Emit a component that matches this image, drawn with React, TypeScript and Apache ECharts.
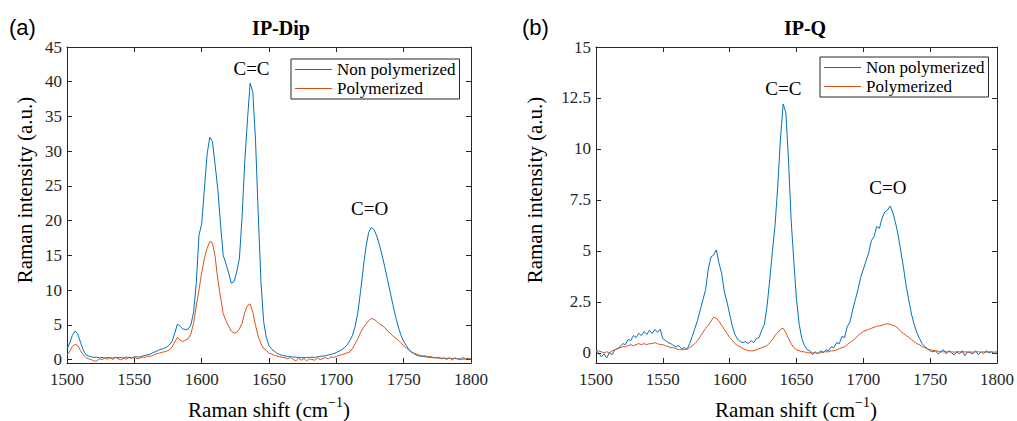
import React, { useEffect, useRef } from "react";
import * as echarts from "echarts";

const SERIF = "Liberation Serif";
const SANS = "Liberation Sans";
const AXIS_COLOR = "#262626";
const BLUE = "#0072BD";
const ORANGE = "#D95319";

// Raman shift sampling grid (cm^-1): 1500, 1502, ..., 1800
const shiftStart = 1500;
const shiftStep = 2;

const xTicks = [1500, 1550, 1600, 1650, 1700, 1750, 1800];
const ipDipYTicks = [0, 5, 10, 15, 20, 25, 30, 35, 40, 45];
const ipQYTicks = [0, 2.5, 5, 7.5, 10, 12.5, 15];

const seriesNames = ["Non polymerized", "Polymerized"];

// (a) IP-Dip
const ipDipNonPolymerized = [
  1.5, 2.4, 3.5, 4.1, 3.7, 2.5, 1.4, 0.7, 0.5, 0.4,
  0.3, 0.35, 0.25, 0.3, 0.2, 0.3, 0.25, 0.2, 0.3, 0.25,
  0.3, 0.2, 0.35, 0.3, 0.25, 0.35, 0.4, 0.35, 0.5, 0.6,
  0.7, 0.8, 1.0, 1.15, 1.35, 1.5, 1.6, 1.8, 2.1, 2.6,
  3.8, 5.1, 4.8, 4.4, 4.3, 4.4, 5.0, 6.8, 11.0, 17.9,
  19.5, 24.5, 29.5, 32.0, 31.4, 28.0, 24.5, 19.5, 15.0, 13.8,
  12.5, 11.0, 11.2, 12.6, 14.5, 20.5, 28.5, 34.5, 39.8, 38.5,
  31.5, 21.0, 11.3, 5.5, 3.2, 2.0, 1.5, 1.2, 0.9, 0.7,
  0.6, 0.5, 0.45, 0.4, 0.35, 0.35, 0.3, 0.3, 0.25, 0.3,
  0.3, 0.35, 0.3, 0.4, 0.45, 0.5, 0.55, 0.65, 0.75, 0.85,
  1.0, 1.2, 1.4, 1.7, 2.1, 2.7, 3.5, 4.8, 6.8, 9.8,
  13.2, 16.2, 18.3, 19.0, 18.7, 17.8, 16.5, 15.0, 13.3, 11.5,
  9.7, 7.9, 6.2, 4.7, 3.5, 2.6, 2.0, 1.4, 1.1, 0.8,
  0.6, 0.5, 0.45, 0.4, 0.35, 0.3, 0.25, 0.3, 0.2, 0.2,
  0.2, 0.15, 0.2, 0.1, 0.15, 0.1, 0.1, 0.05, 0.1, 0.05,
  0.05,
];
const ipDipPolymerized = [
  0.6, 1.2, 1.9, 2.2, 2.0, 1.3, 0.7, 0.3, 0.1, 0.0,
  -0.2, -0.25, 0.1, 0.0, 0.2, 0.05, 0.25, 0.0, 0.3, 0.1,
  -0.05, 0.2, 0.05, 0.3, 0.15, 0.4, 0.1, 0.2, 0.35, 0.3,
  0.5, 0.45, 0.6, 0.8, 0.9, 1.0, 1.1, 1.2, 1.4, 1.8,
  2.5, 3.2, 2.8, 2.6, 2.8, 3.0, 3.7, 5.2, 7.7, 10.0,
  12.5, 14.5, 16.0, 17.0, 16.8, 14.8, 11.5, 9.0, 6.6, 5.6,
  4.8, 4.1, 3.8, 3.9, 4.4, 5.2, 6.8, 7.8, 8.0, 6.8,
  4.9, 3.3, 2.3, 1.6, 1.3, 0.9, 0.8, 0.6, 0.5, 0.4,
  0.3, 0.25, 0.1, 0.3, 0.0, -0.2, 0.2, -0.1, 0.15, -0.2,
  0.1, 0.0, -0.1, 0.2, 0.0, 0.15, 0.3, 0.1, 0.4, 0.3,
  0.45, 0.6, 0.7, 0.8, 0.95, 1.1, 1.6, 2.3, 3.0, 3.9,
  4.6, 5.1, 5.6, 5.9, 5.8, 5.5, 5.1, 4.9, 4.6, 4.1,
  3.8, 3.4, 3.1, 2.8, 2.4, 2.0, 1.7, 1.3, 1.0, 0.9,
  0.75, 0.6, 0.5, 0.55, 0.4, 0.45, 0.3, 0.2, 0.35, 0.1,
  0.2, 0.0, 0.3, -0.1, 0.25, 0.1, -0.05, 0.3, 0.1, 0.2,
  0.05,
];

// (b) IP-Q
const ipQNonPolymerized = [
  0.1, 0.0, -0.2, -0.05, -0.25, 0.0, -0.1, 0.15, 0.2, 0.3,
  0.45, 0.4, 0.65, 0.6, 0.85, 0.75, 0.95, 0.85, 1.05, 0.9,
  1.1, 0.95, 1.15, 1.0, 1.15, 0.7, 0.6, 0.5, 0.45, 0.35,
  0.3, 0.35, 0.2, 0.25, 0.15, 0.45, 0.8, 1.2, 1.6, 2.1,
  2.6, 3.1, 4.1, 4.7, 4.8, 5.05, 4.4, 3.9, 3.0, 2.5,
  1.9, 1.3, 0.9, 0.65, 0.55, 0.5, 0.55, 0.45, 0.6, 0.5,
  0.7, 0.75, 1.1, 1.4, 2.3, 3.6, 5.0, 6.3, 8.2, 10.5,
  12.2, 11.8, 9.5, 6.5, 4.5, 2.6, 1.4, 0.7, 0.35, 0.15,
  0.1, -0.1, 0.05, -0.05, 0.1, 0.0, 0.15, 0.1, 0.3, 0.25,
  0.5, 0.45, 0.8, 0.75, 1.3, 1.5, 2.1, 2.6, 3.1, 3.7,
  4.1, 4.5, 4.9, 5.5, 5.7, 6.2, 6.1, 6.6, 6.9, 7.0,
  7.2, 6.9, 6.4, 5.8, 5.0, 4.2, 3.3, 2.6, 1.9, 1.4,
  1.0, 0.7, 0.45, 0.3, 0.2, 0.1, 0.05, 0.1, -0.05, 0.05,
  0.15, -0.05, 0.1, 0.0, -0.1, 0.05, -0.05, 0.1, -0.15, 0.05,
  0.0, -0.05, 0.1, -0.1, 0.05, -0.05, 0.1, 0.0, 0.05, -0.05,
  0.0,
];
const ipQPolymerized = [
  0.05, 0.1, 0.05, 0.0, 0.05, 0.0, 0.1, 0.15, 0.2, 0.25,
  0.3, 0.3, 0.35, 0.4, 0.35, 0.4, 0.45, 0.4, 0.45, 0.4,
  0.45, 0.45, 0.5, 0.45, 0.4, 0.4, 0.35, 0.3, 0.25, 0.25,
  0.2, 0.15, 0.15, 0.15, 0.2, 0.25, 0.35, 0.45, 0.6, 0.8,
  1.0, 1.2, 1.35, 1.55, 1.75, 1.7, 1.55, 1.35, 1.15, 0.95,
  0.75, 0.6, 0.45, 0.35, 0.3, 0.2, 0.15, 0.1, 0.1, 0.1,
  0.15, 0.2, 0.25, 0.3, 0.35, 0.5, 0.65, 0.85, 1.0, 1.15,
  1.2, 1.0, 0.7, 0.45, 0.25, 0.15, 0.1, 0.05, 0.05, 0.0,
  0.0, 0.0, 0.0, -0.02, 0.0, 0.05, 0.05, 0.05, 0.1, 0.1,
  0.15, 0.2, 0.25, 0.3, 0.4, 0.5, 0.6, 0.7, 0.85, 0.95,
  1.05, 1.1, 1.15, 1.2, 1.25, 1.3, 1.32, 1.35, 1.4, 1.42,
  1.4, 1.35, 1.3, 1.2, 1.05, 0.95, 0.85, 0.75, 0.65, 0.55,
  0.45, 0.4, 0.3, 0.25, 0.2, 0.15, 0.12, 0.1, 0.08, 0.05,
  0.05, 0.05, 0.05, 0.05, 0.03, 0.05, 0.05, 0.03, 0.05, 0.03,
  0.05, 0.03, 0.05, 0.05, 0.03, 0.05, 0.03, 0.05, 0.05, 0.03,
  0.05,
];

// peak annotations (label, shift, intensity of label centre)
const ipDipPeakLabels: [string, number, number][] = [
  ["C=C", 1637, 41.9],
  ["C=O", 1724.7, 21.7],
];
const ipQPeakLabels: [string, number, number][] = [
  ["C=C", 1640.2, 12.94],
  ["C=O", 1718.3, 8.09],
];

function toPairs(values: number[]) {
  return values.map((v, i) => [shiftStart + i * shiftStep, v]);
}

const axisLineStyle = { color: AXIS_COLOR, width: 1 };

function xAxes(gridIndex: number) {
  const common: any = {
    gridIndex,
    type: "value",
    min: xTicks[0],
    max: xTicks[xTicks.length - 1],
    interval: 50,
    splitLine: { show: false },
    axisLine: { show: true, onZero: false, lineStyle: axisLineStyle },
    axisTick: { show: true, inside: true, length: 5, lineStyle: axisLineStyle },
  };
  return [
    {
      ...common,
      position: "bottom",
      axisLabel: {
        show: true,
        margin: 8,
        color: AXIS_COLOR,
        fontFamily: SERIF,
        fontSize: 17,
        formatter: (v: number) => String(v),
      },
    },
    { ...common, position: "top", axisLabel: { show: false } },
  ];
}

function yAxes(gridIndex: number, max: number, ticks: number[]) {
  const common: any = {
    gridIndex,
    type: "value",
    min: -0.5,
    max,
    splitLine: { show: false },
    axisLine: { show: true, onZero: false, lineStyle: axisLineStyle },
    axisTick: { show: true, inside: true, length: 5, customValues: ticks, lineStyle: axisLineStyle },
  };
  return [
    {
      ...common,
      position: "left",
      axisLabel: {
        show: true,
        customValues: ticks,
        margin: 5,
        color: AXIS_COLOR,
        fontFamily: SERIF,
        fontSize: 17,
        formatter: (v: number) => String(v),
      },
    },
    { ...common, position: "right", axisLabel: { show: false } },
  ];
}

function peakMarks(labels: [string, number, number][]) {
  return {
    symbol: "circle",
    symbolSize: 0,
    silent: true,
    label: {
      show: true,
      position: "inside",
      formatter: "{b}",
      color: "#000",
      fontFamily: SERIF,
      fontSize: 19,
    },
    data: labels.map(([name, x, y]) => ({ name, coord: [x, y] })),
  };
}

function lineSeries(name: string, color: string, values: number[], axisIndex: number, marks?: any) {
  const s: any = {
    type: "line",
    name,
    xAxisIndex: axisIndex,
    yAxisIndex: axisIndex,
    data: toPairs(values),
    symbol: "none",
    lineStyle: { color, width: 1 },
    itemStyle: { color },
    z: 3,
  };
  if (marks) s.markPoint = marks;
  return s;
}

const legendCommon: any = {
  orient: "vertical",
  selectedMode: false,
  data: seriesNames,
  icon: "rect",
  itemWidth: 37,
  itemHeight: 1.2,
  itemGap: 2,
  padding: [2, 4, 2, 4],
  borderColor: AXIS_COLOR,
  borderWidth: 1,
  backgroundColor: "#fff",
  textStyle: { fontFamily: SERIF, fontSize: 17, color: "#000", lineHeight: 16 },
};

function xName(cx: number) {
  return {
    type: "text",
    x: cx,
    y: 410,
    style: {
      text: "{a|Raman shift (cm}{s|−1}{a|)}",
      align: "center",
      verticalAlign: "middle",
      fill: "#000",
      rich: {
        a: { fontFamily: SERIF, fontSize: 21, lineHeight: 30, fill: "#000" },
        s: { fontFamily: SERIF, fontSize: 14, lineHeight: 12, verticalAlign: "top", fill: "#000" },
      },
    },
  };
}

function yName(cx: number) {
  return {
    type: "text",
    x: cx,
    y: 190,
    rotation: Math.PI / 2,
    style: {
      text: "Raman intensity (a.u.)",
      align: "center",
      verticalAlign: "middle",
      fontFamily: SERIF,
      fontSize: 21,
      fill: "#000",
    },
  };
}

function textAt(text: string, x: number, y: number, font: string, size: number, weight: string, align: string) {
  return {
    type: "text",
    x,
    y,
    style: { text, align, verticalAlign: "middle", fontFamily: font, fontSize: size, fontWeight: weight, fill: "#000" },
  };
}

// Force the serif face on every chart text, except the sans panel letters.
const fontCss = `
.raman-fig svg text { font-family: "Liberation Serif", "Times New Roman", serif !important; }
.raman-fig svg text[style*="Liberation Sans"] { font-family: "Liberation Sans", Arial, sans-serif !important; }
`;

export default function App() {
  const ref = useRef<HTMLDivElement>(null);
  useEffect(() => {
    if (!ref.current) return;
    const chart = echarts.init(ref.current, undefined, { renderer: "svg" });
    chart.setOption({
      animation: false,
      backgroundColor: "#fff",
      textStyle: { fontFamily: SERIF },
      grid: [
        { left: 67, top: 47, width: 404, height: 316 },
        { left: 596, top: 47, width: 403, height: 316 },
      ],
      xAxis: [...xAxes(0), ...xAxes(1)],
      yAxis: [...yAxes(0, 45, ipDipYTicks), ...yAxes(1, 15, ipQYTicks)],
      legend: [
        { ...legendCommon, left: 291, top: 59 },
        { ...legendCommon, left: 820, top: 57 },
      ],
      series: [
        lineSeries(seriesNames[0], BLUE, ipDipNonPolymerized, 0, peakMarks(ipDipPeakLabels)),
        lineSeries(seriesNames[1], ORANGE, ipDipPolymerized, 0),
        lineSeries(seriesNames[0], BLUE, ipQNonPolymerized, 2, peakMarks(ipQPeakLabels)),
        lineSeries(seriesNames[1], ORANGE, ipQPolymerized, 2),
      ],
      graphic: [
        textAt("(a)", 9, 27, SANS, 22, "normal", "left"),
        textAt("(b)", 522, 27, SANS, 22, "normal", "left"),
        textAt("IP-Dip", 281, 28, SERIF, 20, "bold", "center"),
        textAt("IP-Q", 805, 28, SERIF, 20, "bold", "center"),
        xName(269),
        xName(796),
        yName(25),
        yName(535),
      ],
    });
    return () => chart.dispose();
  }, []);
  return (
    <>
      <style>{fontCss}</style>
      <div
        ref={ref}
        className="raman-fig"
        style={{ position: "fixed", left: 0, top: 0, width: 1017, height: 421, background: "#fff" }}
      />
    </>
  );
}
